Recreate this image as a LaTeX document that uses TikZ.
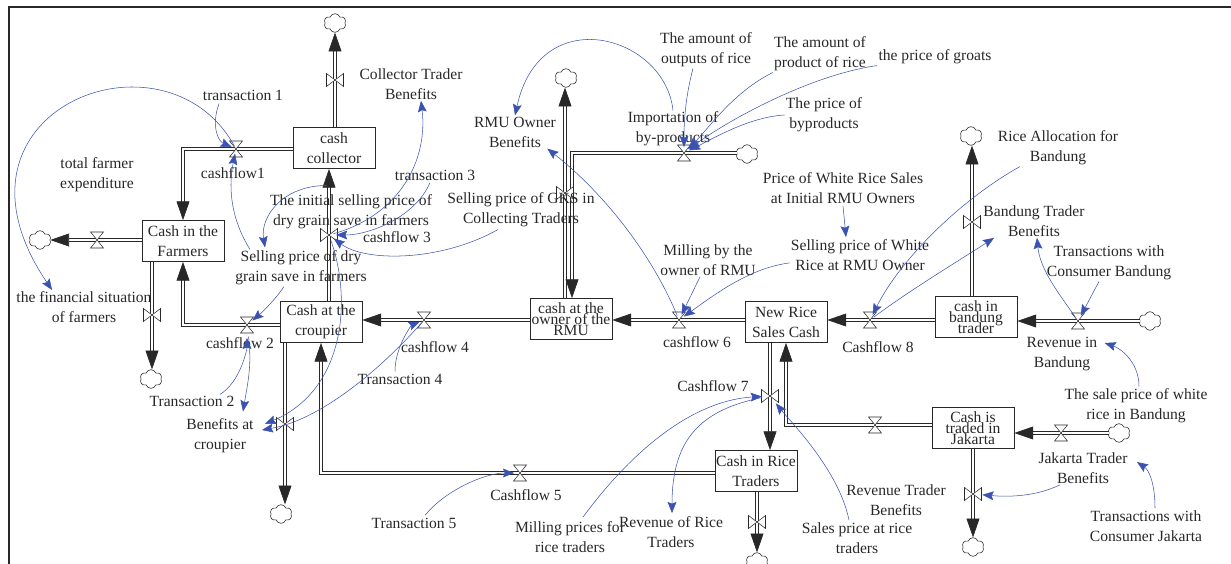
\documentclass[tikz,border=0pt]{standalone}
\usepackage{fontspec}
\setmainfont{Liberation Serif}
\usetikzlibrary{positioning}
\usetikzlibrary{arrows.meta}
\usetikzlibrary{shapes.symbols}
\usetikzlibrary{calc}
\definecolor{inkgray}{RGB}{40,40,40}
\definecolor{linkblue}{RGB}{58,82,176}
\lineskiplimit=-50pt

\tikzset{
  stock/.style={draw=inkgray, fill=white, line width=0.6pt, minimum width=2.46cm, minimum height=1.23cm, inner sep=1pt, align=center, text=inkgray, font=\fontsize{13.3}{17}\selectfont},
  stockfit/.style={stock, font=\fontsize{13.3}{9.6}\selectfont},
  var/.style={align=center, inner sep=1pt, text=inkgray, font=\fontsize{13.3}{17}\selectfont},
  pipe/.style={draw=inkgray, line width=0.55pt, double=white, double distance=2.4pt},
  flow/.style={pipe, -{Triangle[length=16pt,width=11pt]}},
  link/.style={draw=linkblue, line width=0.45pt, -{Stealth[length=9.5pt,width=7.5pt,inset=1.5pt]}},
  nube/.style={cloud, cloud puffs=6, cloud puff arc=140, aspect=1.15, draw=inkgray, fill=white, line width=0.5pt, minimum width=0.66cm, minimum height=0.56cm, inner sep=0pt},
  valveh/.pic={\draw[inkgray, fill=white, line width=0.45pt] (-6.5,-8) -- (6.5,-8) -- (-6.5,8) -- (6.5,8) -- cycle;},
  valvev/.pic={\draw[inkgray, fill=white, line width=0.45pt] (-8.5,-6.5) -- (-8.5,6.5) -- (8.5,-6.5) -- (8.5,6.5) -- cycle;}
}

\begin{document}
\begin{tikzpicture}[x=0.03cm, y=-0.03cm]
\useasboundingbox (0,0) rectangle (1231,564);
% cornice
\draw[inkgray, line width=1.4pt] (9,564) -- (9,7) -- (1231,7);

% scorte
\node[stock] (collector) at (334,148) {cash\\collector};
\node[stock] (farmers) at (183,241) {Cash in the\\Farmers};
\node[stock] (croupier) at (321,322) {Cash at the\\croupier};
\node[stockfit] (rmu) at (571,319) {cash at the\\owner of the\\RMU};
\node[stock] (newrice) at (786,322) {New Rice\\Sales Cash};
\node[stockfit] (bandung) at (976,317) {cash in\\bandung\\trader};
\node[stock] (ricetraders) at (756,471) {Cash in Rice\\Traders};
\node[stockfit] (jakarta) at (973,428) {Cash is\\traded in\\Jakarta};

% nuvole
\node[nube] (c1) at (335,23) {};
\node[nube] (c2) at (40,240) {};
\node[nube] (c3) at (151,379) {};
\node[nube] (c4) at (281,514) {};
\node[nube] (c5) at (566,78) {};
\node[nube] (c6) at (747,154) {};
\node[nube] (c7) at (971,136) {};
\node[nube] (c8) at (1150,321) {};
\node[nube] (c9) at (1119,433) {};
\node[nube] (c10) at (973,547) {};
\node[nube] (c11) at (757,562) {};

% valvole
\coordinate (v1) at (236,149);
\coordinate (v0) at (97,240);
\coordinate (vfd) at (152,315);
\coordinate (v2) at (247,325);
\coordinate (vcu) at (335,80);
\coordinate (v3) at (329,235);
\coordinate (vcd) at (285,424);
\coordinate (v4) at (424,320);
\coordinate (v5) at (520,473);
\coordinate (vru) at (565,193);
\coordinate (vimp) at (684,153);
\coordinate (kimp) at (572,153);
\coordinate (v6) at (679,320);
\coordinate (v8) at (870,320);
\coordinate (vbu) at (972,222);
\coordinate (vrb) at (1078,321);
\coordinate (v7) at (770,396);
\coordinate (vjn) at (875,425);
\coordinate (vji) at (1061,433);
\coordinate (vjd) at (973,494);
\coordinate (vrd) at (757,522);

% flussi
\draw[flow] (collector.west |- v1) -- (v1) -| (farmers.north);
\draw[flow] (farmers.west |- v0) -- (c2.east |- v0);
\draw[flow] (farmers.south -| vfd) -- (vfd |- c3.north);
\draw[flow] (croupier.west |- v2) -- (v2) -| (farmers.south);
\draw[flow] (collector.north -| vcu) -- (vcu |- c1.south);
\draw[flow] (croupier.north -| v3) -- (collector.south -| v3);
\draw[flow] (croupier.south -| vcd) -- (vcd |- c4.north);
\draw[flow] (rmu.west |- v4) -- (v4) -- (croupier.east |- v4);
\draw[flow] (ricetraders.west |- v5) -- (v5) -| (croupier.south);
\draw[flow] (rmu.north -| vru) -- (vru |- c5.south);
\draw[flow] (c6.west |- vimp) -- (vimp) -- (kimp) -- (kimp |- rmu.north);
\draw[flow] (newrice.west |- v6) -- (v6) -- (rmu.east |- v6);
\draw[flow] (bandung.west |- v8) -- (v8) -- (newrice.east |- v8);
\draw[flow] (bandung.north -| vbu) -- (vbu |- c7.south);
\draw[flow] (c8.west |- vrb) -- (vrb) -- (bandung.east |- vrb);
\draw[flow] (newrice.south -| v7) -- (ricetraders.north -| v7);
\draw[flow] (jakarta.west |- vjn) -- (vjn) -| (newrice.south);
\draw[flow] (c9.west |- vji) -- (vji) -- (jakarta.east |- vji);
\draw[flow] (jakarta.south -| vjd) -- (vjd |- c10.north);
\draw[flow] (ricetraders.south -| vrd) -- (vrd |- c11.north);

\foreach \v in {v1,v0,v2,v4,v5,vimp,v6,v8,vrb,vjn,vji} {
    \pic at (\v) {valveh};
}
\foreach \v in {vfd,vcu,v3,vcd,vru,vbu,v7,vjd,vrd} {
    \pic at (\v) {valvev};
}

% variabili
\node[var] (trans1) at (243,95) {transaction 1};
\node[var] (ctb) at (411,84) {Collector Trader\\Benefits};
\node[var] (totexp) at (97,175) {total farmer\\expenditure};
\node[var] (lcf1) at (233,173) {cashflow1};
\node[var] (initsell) at (351,212) {The initial selling price of\\dry grain save in farmers};
\node[var] (trans3) at (435,175) {transaction 3};
\node[var] (lcf3) at (397,237) {cashflow 3};
\node[var] (gks) at (521,210) {Selling price of GKS in\\Collecting Traders};
\node[var] (selldry) at (301,268) {Selling price of dry\\grain save in farmers};
\node[var] (finsit) at (84,307) {the financial situation\\of farmers};
\node[var] (lcf2) at (240,343) {cashflow 2};
\node[var] (trans2) at (192,401) {Transaction 2};
\node[var] (bencro) at (220,436) {Benefits at\\croupier};
\node[var] (lcf4) at (435,347) {cashflow 4};
\node[var] (trans4) at (400,379) {Transaction 4};
\node[var] (trans5) at (414,523) {Transaction 5};
\node[var] (lcf5) at (526,495) {Cashflow 5};
\node[var] (millpr) at (570,537) {Milling prices for\\rice traders};
\node[var] (revrice) at (671,532) {Revenue of Rice\\Traders};
\node[var] (lcf7) at (713,386) {Cashflow 7};
\node[var] (revtrad) at (896,500) {Revenue Trader\\Benefits};
\node[var] (salespr) at (857,538) {Sales price at rice\\traders};
\node[var] (rmuben) at (515,132) {RMU Owner\\Benefits};
\node[var] (outputs) at (706,50) {The amount of\\outputs of rice};
\node[var] (product) at (820,54) {The amount of\\product of rice};
\node[var] (groats) at (935,57) {the price of groats};
\node[var] (imp) at (673,129) {Importation of\\by-products};
\node[var] (byprod) at (824,115) {The price of\\byproducts};
\node[var] (pricewhite) at (843,188) {Price of White Rice Sales\\at Initial RMU Owners};
\node[var] (milling) at (708,260) {Milling by the\\owner of RMU};
\node[var] (sellwhite) at (860,255) {Selling price of White\\Rice at RMU Owner};
\node[var] (lcf6) at (697,342) {cashflow 6};
\node[var] (lcf8) at (878,347) {Cashflow 8};
\node[var] (riceall) at (1058,148) {Rice Allocation for\\Bandung};
\node[var] (bandben) at (1034,221) {Bandung Trader\\Benefits};
\node[var] (consband) at (1109,263) {Transactions with\\Consumer Bandung};
\node[var] (revband) at (1062,354) {Revenue in\\Bandung};
\node[var] (salewhite) at (1136,406) {The sale price of white\\rice in Bandung};
\node[var] (jakben) at (1083,468) {Jakarta Trader\\Benefits};
\node[var] (consjak) at (1146,526) {Transactions with\\Consumer Jakarta};

% collegamenti
\draw[link, shorten <=3pt] (v1) .. controls (165,20) and (-70,110) .. ($(finsit.north west)+(37,0)$);
\draw[link, shorten >=4pt] ($(trans1.south)+(-24,2)$) .. controls +(-8,22) and +(-18,-8) .. (v1);
\draw[link, shorten >=4pt] ($(selldry.north west)+(16,0)$) .. controls +(-25,-40) and +(-5,25) .. (v1);
\draw[link] ($(initsell.north)+(-24,-8)$) .. controls +(-45,0) and +(-5,-30) .. ($(selldry.north west)+(31,-2)$);
\draw[link, shorten >=6pt] ($(selldry.south)+(-17,0)$) .. controls +(-10,15) and +(12,-10) .. (v2);
\draw[link, shorten <=4pt] (v3) .. controls (400,215) and (428,160) .. ($(ctb.south)+(10,0)$);
\draw[link, shorten >=6pt] ($(trans3.south)+(-5,1)$) .. controls +(-15,35) and +(40,0) .. (v3);
\draw[link, shorten >=5pt] ($(gks.south)+(-23,1)$) .. controls (440,262) and (365,262) .. (v3);
\draw[link, shorten >=11pt] ($(trans2.north)+(28,0)$) .. controls +(20,-12) and +(0,25) .. (v2);
\draw[link, shorten <=10pt] (v2) .. controls +(5,40) and +(5,-30) .. ($(bencro.north)+(23,-6)$);
\draw[link, shorten <=5pt] (v3) .. controls (352,300) and (345,390) .. ($(bencro.east)+(10,-12)$);
\draw[link, shorten <=4pt] (v4) .. controls (380,370) and (320,420) .. ($(bencro.east)+(7,-6)$);
\draw[link, shorten >=4pt] ($(trans4.north)+(-5,-1)$) .. controls +(0,-25) and +(-12,5) .. (v4);
\draw[link, shorten >=5pt] ($(trans5.north)+(11,-1)$) .. controls +(20,-25) and +(-35,0) .. (v5);
\draw[link] (imp.north) .. controls (665,35) and (540,0) .. (rmuben.north);
\draw[link, shorten <=4pt] (v6) .. controls (650,250) and (600,190) .. ($(rmuben.south east)+(-10,0)$);
\draw[link, shorten >=5pt] ($(outputs.south)+(-13,0)$) .. controls +(-8,30) and +(0,-30) .. (vimp);
\draw[link, shorten >=5pt] (product.south west) .. controls +(-40,20) and +(25,-25) .. (vimp);
\draw[link, shorten >=5pt] (groats.south west) .. controls +(-70,10) and +(40,-30) .. (vimp);
\draw[link, shorten >=5pt] (byprod.west) .. controls +(-35,2) and +(30,-15) .. (vimp);
\draw[link, shorten >=5pt] ($(milling.south)+(-8,0)$) -- (v6);
\draw[link, shorten >=5pt] ($(sellwhite.south west)+(0,-9)$) .. controls +(-40,5) and +(35,-25) .. (v6);
\draw[link] ($(pricewhite.south)+(0,1)$) -- ($(sellwhite.north)+(-14,-1)$);
\draw[link, shorten >=5pt] ($(riceall.south)+(-38,0)$) .. controls (960,200) and (900,260) .. (v8);
\draw[link, shorten <=4pt] (v8) .. controls (910,290) and (960,260) .. ($(bandben.south west)+(12,0)$);
\draw[link, shorten >=5pt] ($(consband.south)+(-10,0)$) -- (vrb);
\draw[link, shorten <=4pt] (vrb) .. controls (1060,295) and (1040,270) .. ($(bandben.south)+(3,0)$);
\draw[link] ($(salewhite.north)+(3,-1)$) .. controls +(0,-25) and +(15,5) .. ($(revband.east)+(6,-11)$);
\draw[link, shorten >=8pt] ($(jakben.south)+(-23,0)$) .. controls +(-25,12) and +(35,3) .. (vjd);
\draw[link] ($(consjak.north)+(9,-1)$) .. controls +(0,-25) and +(12,8) .. ($(jakben.east)+(8,-6)$);
\draw[link, shorten >=7pt] ($(millpr.north)+(13,-3)$) .. controls (640,440) and (700,400) .. (v7);
\draw[link, shorten <=7pt] (v7) .. controls (700,410) and (672,440) .. ($(revrice.north)+(1,-2)$);
\draw[link, shorten >=8pt] ($(salespr.north)+(-8,-1)$) .. controls +(-10,-50) and +(20,25) .. (v7);
\end{tikzpicture}
\end{document}
